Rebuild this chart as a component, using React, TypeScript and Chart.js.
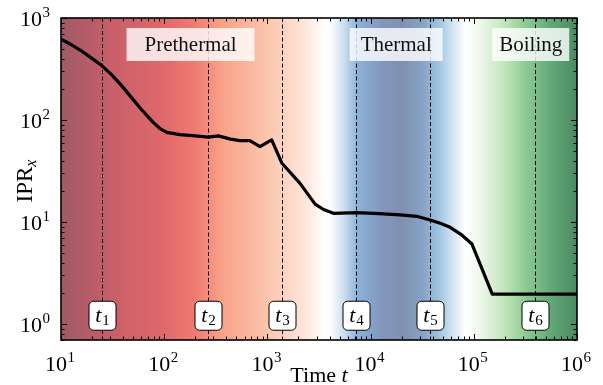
import React, { useEffect, useRef } from "react";
import { Chart, registerables } from "chart.js";
Chart.register(...registerables);

// ---- data ----
const timeValues = [10, 12.5, 15.6, 19.5, 25, 31.2, 39, 48.7, 61, 77.8, 91, 106, 142, 200, 267, 334, 440, 542, 676, 847, 1100, 1377, 2070, 2900, 3500, 4370, 7330, 12000, 19300, 28000, 37700, 48000, 59000, 75000, 96000, 151000, 1000000];
const iprValues = [620, 550, 480, 409, 340, 276, 215, 164, 125, 95.5, 82.6, 75.7, 72, 70, 68, 70, 65, 63, 63, 55, 64, 38, 24, 15, 13.3, 12.2, 12.4, 12.1, 11.8, 11.4, 10.5, 9.7, 8.9, 7.6, 6.1, 1.97, 1.97];
const markerTimes = [25, 267, 1390, 7250, 37700, 394000];
const markerSubscripts = ["1", "2", "3", "4", "5", "6"];
const regionNames = ["Prethermal", "Thermal", "Boiling"];
const regionCenterTimes = [180, 17700, 356000];
const xDecadeExponents = [1, 2, 3, 4, 5, 6];
const yDecadeExponents = [0, 1, 2, 3];

// ---- layout / style constants ----
const SERIF = "'Liberation Serif', 'Times New Roman', serif";
const regionBoxWidths = [128, 93, 77];
const bgStops: [number, string][] = [
  [1.0, "#9f5a66"],
  [1.5, "#c95f69"],
  [2.0, "#df696c"],
  [2.3, "#ef7b73"],
  [2.55, "#f8a088"],
  [3.0, "#fcc5ad"],
  [3.4, "#fee9e0"],
  [3.55, "#ffffff"],
  [3.62, "#fbfcfe"],
  [3.75, "#c8dcee"],
  [3.87, "#8cb2d8"],
  [4.1, "#8297be"],
  [4.3, "#8190b0"],
  [4.5, "#86a1c5"],
  [4.66, "#9ec4e1"],
  [4.8, "#d4e6f2"],
  [4.92, "#ffffff"],
  [5.05, "#f0f8ee"],
  [5.3, "#c3e5bb"],
  [5.5, "#8dcb93"],
  [5.75, "#63a878"],
  [6.0, "#4b8a63"],
];

function drawPow(ctx: CanvasRenderingContext2D, exp: number, x: number, baseline: number, align: "center" | "right") {
  ctx.font = `22px ${SERIF}`;
  const w10 = ctx.measureText("10").width;
  ctx.font = `15px ${SERIF}`;
  const we = ctx.measureText(String(exp)).width;
  const total = w10 + we + 0.5;
  const start = align === "center" ? x - total / 2 : x - total;
  ctx.textAlign = "left";
  ctx.textBaseline = "alphabetic";
  ctx.font = `22px ${SERIF}`;
  ctx.fillText("10", start, baseline);
  ctx.font = `15px ${SERIF}`;
  ctx.fillText(String(exp), start + w10 + 0.5, baseline - 9);
}

const decorPlugin = {
  id: "decor",
  beforeDatasetsDraw(chart: any) {
    const { ctx, chartArea: a, scales } = chart;
    const x = scales.x;
    ctx.save();
    const span = a.right - a.left;
    const g = ctx.createLinearGradient(a.left, 0, a.right, 0);
    bgStops.forEach(([p, c]) => {
      const px = x.getPixelForValue(Math.pow(10, p));
      g.addColorStop(Math.min(1, Math.max(0, (px - a.left) / span)), c);
    });
    ctx.fillStyle = g;
    ctx.fillRect(a.left, a.top, span, a.bottom - a.top);

    ctx.strokeStyle = "#000";
    ctx.lineWidth = 1;
    ctx.setLineDash([4, 2.5]);
    markerTimes.forEach((t) => {
      const px = Math.round(x.getPixelForValue(t)) + 0.5;
      ctx.beginPath();
      ctx.moveTo(px, a.top);
      ctx.lineTo(px, a.bottom);
      ctx.stroke();
    });
    ctx.restore();
  },
  afterDatasetsDraw(chart: any) {
    const { ctx, chartArea: a, scales } = chart;
    const x = scales.x;
    const y = scales.y;
    ctx.save();

    // region labels
    regionNames.forEach((name, i) => {
      const cx = x.getPixelForValue(regionCenterTimes[i]);
      const cy = a.top + 26.5;
      const w = regionBoxWidths[i];
      const h = 33;
      ctx.fillStyle = "rgba(255,255,255,0.8)";
      ctx.fillRect(cx - w / 2, cy - h / 2, w, h);
      ctx.fillStyle = "#111";
      ctx.font = `21px ${SERIF}`;
      ctx.textAlign = "center";
      ctx.textBaseline = "alphabetic";
      ctx.fillText(name, cx, cy + 6.5);
    });

    // t markers
    const cyT = y.getPixelForValue(1.21);
    markerTimes.forEach((t, i) => {
      const cx = Math.round(x.getPixelForValue(t)) + 0.5;
      const w = 27;
      const h = 29;
      ctx.beginPath();
      (ctx as any).roundRect(cx - w / 2, cyT - h / 2, w, h, 4.5);
      ctx.fillStyle = "#fff";
      ctx.fill();
      ctx.lineWidth = 1;
      ctx.strokeStyle = "#000";
      ctx.stroke();
      ctx.fillStyle = "#000";
      ctx.font = `italic 22px ${SERIF}`;
      const wt = ctx.measureText("t").width;
      ctx.font = `15px ${SERIF}`;
      const ws = ctx.measureText(markerSubscripts[i]).width;
      const start = cx - (wt + ws + 1) / 2;
      ctx.textAlign = "left";
      ctx.font = `italic 22px ${SERIF}`;
      ctx.fillText("t", start, cyT + 6);
      ctx.font = `15px ${SERIF}`;
      ctx.fillText(markerSubscripts[i], start + wt + 1, cyT + 9.5);
    });

    // ticks
    ctx.strokeStyle = "#000";
    ctx.lineWidth = 1;
    const xMin = x.min, xMax = x.max, yMin = y.min, yMax = y.max;
    for (let d = Math.floor(Math.log10(xMin)); d <= Math.ceil(Math.log10(xMax)); d++) {
      for (let m = 1; m <= 9; m++) {
        const v = m * Math.pow(10, d);
        if (v < xMin - 1e-9 || v > xMax * (1 + 1e-9)) continue;
        const px = Math.round(x.getPixelForValue(v)) + 0.5;
        const len = m === 1 ? 6 : 3.5;
        ctx.beginPath();
        ctx.moveTo(px, a.bottom);
        ctx.lineTo(px, a.bottom - len);
        ctx.moveTo(px, a.top);
        ctx.lineTo(px, a.top + len);
        ctx.stroke();
      }
    }
    for (let d = Math.floor(Math.log10(yMin)); d <= Math.ceil(Math.log10(yMax)); d++) {
      for (let m = 1; m <= 9; m++) {
        const v = m * Math.pow(10, d);
        if (v < yMin || v > yMax * (1 + 1e-9)) continue;
        const py = Math.round(y.getPixelForValue(v)) + 0.5;
        const len = m === 1 ? 6 : 3.5;
        ctx.beginPath();
        ctx.moveTo(a.left, py);
        ctx.lineTo(a.left + len, py);
        ctx.moveTo(a.right, py);
        ctx.lineTo(a.right - len, py);
        ctx.stroke();
      }
    }

    // frame
    ctx.lineWidth = 1.6;
    ctx.strokeRect(a.left, a.top, a.right - a.left, a.bottom - a.top);

    // tick labels
    ctx.fillStyle = "#000";
    xDecadeExponents.forEach((e) => {
      const px = x.getPixelForValue(Math.pow(10, e));
      drawPow(ctx, e, px - 1, a.bottom + 31, "center");
    });
    yDecadeExponents.forEach((e) => {
      const py = y.getPixelForValue(Math.pow(10, e));
      drawPow(ctx, e, a.left - 11, py + 8, "right");
    });

    // x title
    ctx.font = `22px ${SERIF}`;
    const wTime = ctx.measureText("Time ").width;
    ctx.font = `italic 22px ${SERIF}`;
    const wt = ctx.measureText("t").width;
    const xs = (a.left + a.right) / 2 - (wTime + wt) / 2;
    ctx.textAlign = "left";
    ctx.font = `22px ${SERIF}`;
    ctx.fillText("Time ", xs, 382);
    ctx.font = `italic 22px ${SERIF}`;
    ctx.fillText("t", xs + wTime, 382);

    // y title
    ctx.save();
    ctx.translate(32, (a.top + a.bottom) / 2 + 2);
    ctx.rotate(-Math.PI / 2);
    ctx.font = `23px ${SERIF}`;
    const wI = ctx.measureText("IPR").width;
    ctx.font = `italic 16px ${SERIF}`;
    const wx = ctx.measureText("x").width;
    const s = -(wI + wx) / 2;
    ctx.font = `23px ${SERIF}`;
    ctx.fillText("IPR", s, 0);
    ctx.font = `italic 16px ${SERIF}`;
    ctx.fillText("x", s + wI, 4);
    ctx.restore();

    ctx.restore();
  },
};

export default function App() {
  const ref = useRef<HTMLCanvasElement | null>(null);
  useEffect(() => {
    if (!ref.current) return;
    const chart = new Chart(ref.current, {
      type: "line",
      data: {
        datasets: [
          {
            data: timeValues.map((t, i) => ({ x: t, y: iprValues[i] })),
            borderColor: "#000",
            borderWidth: 3.2,
            pointRadius: 0,
            tension: 0,
            fill: false,
            borderJoinStyle: "round",
          },
        ],
      },
      options: {
        animation: false,
        responsive: true,
        maintainAspectRatio: false,
        layout: { padding: { left: 0, top: 18, right: 26, bottom: 0 } },
        plugins: { legend: { display: false }, tooltip: { enabled: false } },
        scales: {
          x: {
            type: "logarithmic",
            min: 10,
            max: 1000000,
            grid: { display: false },
            border: { display: false },
            ticks: { display: false },
            afterFit: (s: any) => {
              s.height = 45;
            },
          },
          y: {
            type: "logarithmic",
            min: 0.713,
            max: 1000,
            grid: { display: false },
            border: { display: false },
            ticks: { display: false },
            afterFit: (s: any) => {
              s.width = 61;
            },
          },
        },
      } as any,
      plugins: [decorPlugin],
    });
    return () => chart.destroy();
  }, []);
  return (
    <div style={{ position: "fixed", left: 0, top: 0, width: 603, height: 385, background: "#fff" }}>
      <canvas ref={ref} />
    </div>
  );
}
